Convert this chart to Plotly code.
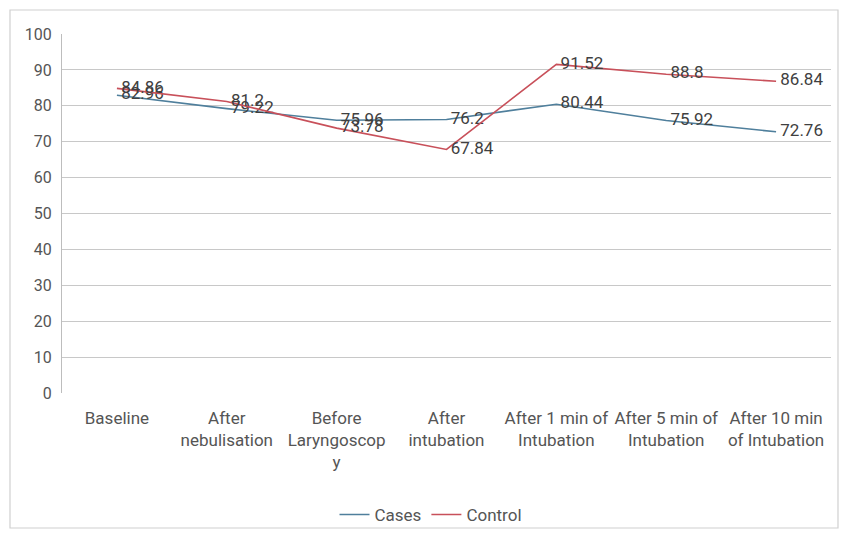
import plotly.graph_objects as go

categories = ["Baseline", "After<br>nebulisation", "Before<br>Laryngoscop<br>y", "After<br>intubation",
              "After 1 min of<br>Intubation", "After 5 min of<br>Intubation", "After 10 min<br>of Intubation"]
cases = [82.96, 79.22, 75.96, 76.2, 80.44, 75.92, 72.76]
control = [84.86, 81.2, 73.78, 67.84, 91.52, 88.8, 86.84]
y_ticks = [0, 10, 20, 30, 40, 50, 60, 70, 80, 90, 100]

FONT = "Roboto, Liberation Sans, sans-serif"

fig = go.Figure()
fig.add_trace(go.Scatter(
    x=categories, y=cases, name="Cases", mode="lines+text",
    line=dict(color="#4f7f9c", width=1.6),
    text=[" " + str(v) for v in cases], textposition="middle right",
    textfont=dict(family=FONT, size=17, color="#404040"),
))
fig.add_trace(go.Scatter(
    x=categories, y=control, name="Control", mode="lines+text",
    line=dict(color="#c8505a", width=1.6),
    text=[" " + str(v) for v in control], textposition="middle right",
    textfont=dict(family=FONT, size=17, color="#404040"),
))

fig.update_layout(
    width=844, height=534,
    margin=dict(l=62, r=13, t=34, b=141),
    paper_bgcolor="white", plot_bgcolor="white",
    font=dict(family=FONT, size=16, color="#555555"),
    showlegend=True,
    legend=dict(orientation="h", xref="container", yref="container",
                x=431 / 844, xanchor="center", y=1 - 515 / 534, yanchor="middle",
                bgcolor="rgba(0,0,0,0)", itemwidth=30,
                font=dict(family=FONT, size=17, color="#555555")),
    xaxis=dict(type="category", range=[-0.5, 6.5], showgrid=False, zeroline=False,
               showline=False, ticks="", ticklabelstandoff=13, automargin=False,
               tickfont=dict(size=17, color="#555555")),
    yaxis=dict(range=[0, 100], tickvals=y_ticks, showgrid=True, gridcolor="#c8c8c8",
               gridwidth=1.3, zeroline=False, showline=True, linecolor="#bdbdbd",
               linewidth=1.3, ticks="", ticklabelstandoff=6, automargin=False,
               tickfont=dict(size=16, color="#555555")),
    shapes=[dict(type="rect", xref="paper", yref="paper",
                 x0=-52/769, x1=1 + 7/769, y0=-(528-393)/359, y1=1 + 24/359,
                 line=dict(color="#d0d0d0", width=1.2))],
)

fig.write_html("out.html", config={"displayModeBar": False},
               post_script="document.body.style.margin='0';")
